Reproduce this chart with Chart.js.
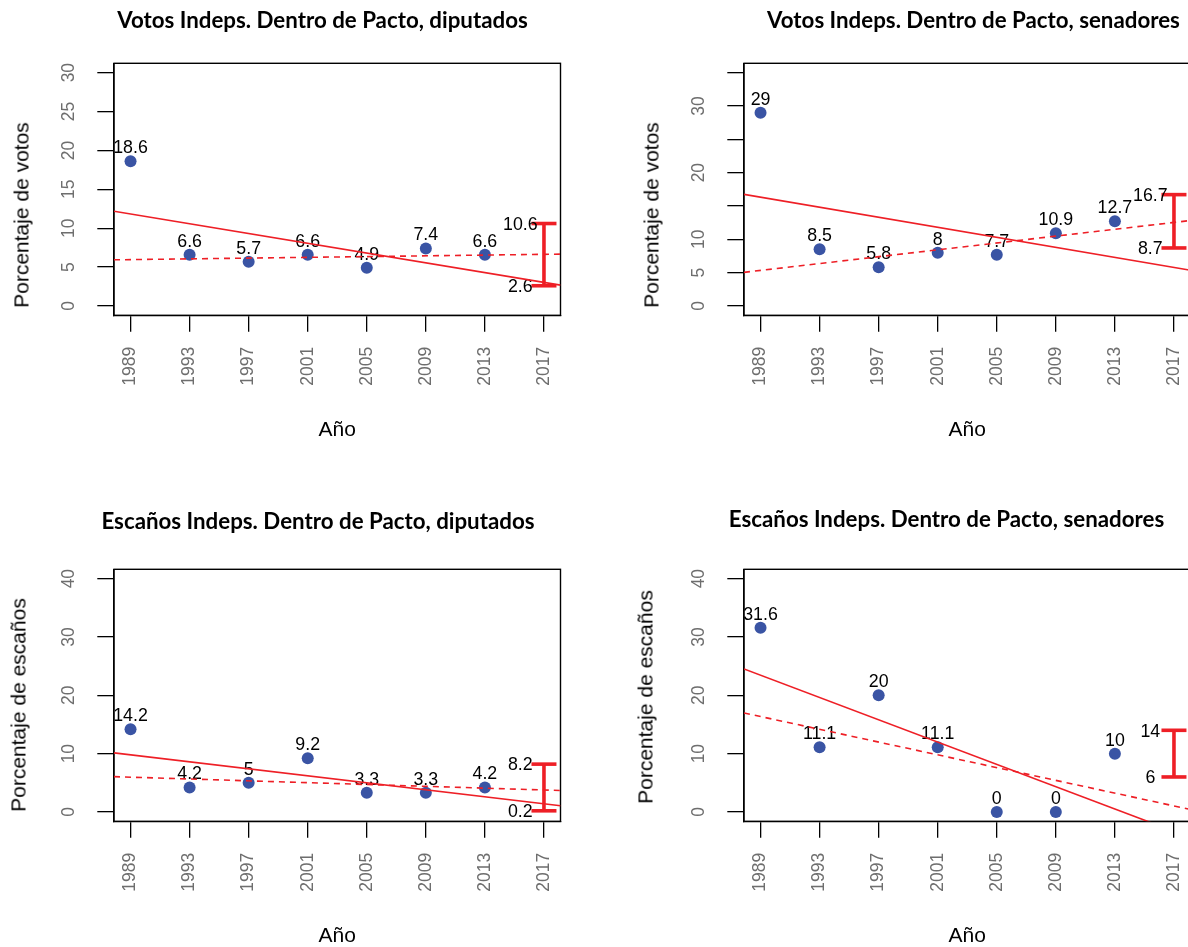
<!DOCTYPE html>
<html lang="es">
<head>
<meta charset="utf-8">
<title>Independientes dentro de pacto</title>
<script src="https://cdn.jsdelivr.net/npm/chart.js@4.4.1/dist/chart.umd.min.js"></script>
<style>
  html, body { margin: 0; padding: 0; background: #fff; }
  body { position: relative; width: 1188px; height: 947px; overflow: hidden; }
  canvas { position: absolute; }
  .panel-title {
    position: absolute; white-space: nowrap; line-height: 1;
    font-family: Lato, "Open Sans", sans-serif; font-weight: 700; font-size: 22.3px; color: #000;
    transform: translate(-50%, -50%);
  }
  .y-title {
    position: absolute; white-space: nowrap; line-height: 1;
    font-family: "Liberation Sans", Arial, sans-serif; font-size: 21px; color: #000;
    transform: translate(-50%, -50%) rotate(-90deg);
  }
</style>
</head>
<body>
<script>
// ---- data ----
const years = [1989, 1993, 1997, 2001, 2005, 2009, 2013];
const yearTicks = [1989, 1993, 1997, 2001, 2005, 2009, 2013, 2017];
const yearTickLabels = ['1989', '1993', '1997', '2001', '2005', '2009', '2013', '2017'];
const forecastYear = 2017;
const xLimits = [1989, 2017];

const votosDiputados = [18.6, 6.6, 5.7, 6.6, 4.9, 7.4, 6.6];
const votosSenadores = [29, 8.5, 5.8, 8, 7.7, 10.9, 12.7];
const escanosDiputados = [14.2, 4.2, 5, 9.2, 3.3, 3.3, 4.2];
const escanosSenadores = [31.6, 11.1, 20, 11.1, 0, 0, 10];

// 2017 range (low, high)
const rangoVotosDiputados = [2.6, 10.6];
const rangoVotosSenadores = [8.7, 16.7];
const rangoEscanosDiputados = [0.2, 8.2];
const rangoEscanosSenadores = [6, 14];

const yLimitsVotosDip = [0, 30];
const yTicksVotosDip = [0, 5, 10, 15, 20, 25, 30];
const yTickLabelsVotosDip = ['0', '5', '10', '15', '20', '25', '30'];

const yLimitsVotosSen = [0, 35];
const yTicksVotosSen = [0, 5, 10, 15, 20, 25, 30, 35];
const yTickLabelsVotosSen = ['0', '5', '10', '', '20', '', '30', ''];

const yLimitsEscanos = [0, 40];
const yTicksEscanos = [0, 10, 20, 30, 40];
const yTickLabelsEscanos = ['0', '10', '20', '30', '40'];

// ---- styles ----
const POINT_BLUE = '#3a54a4';
const TREND_RED = '#ee1f26';
const TICK_GREY = '#6e6e6e';
const SANS = '"Liberation Sans", Arial, Helvetica, sans-serif';
const CANVAS_W = 630, CANVAS_H = 506;

Chart.defaults.font.family = SANS;

// ordinary least squares line through (xs, ys)
function leastSquares(xs, ys) {
  const n = xs.length;
  const mx = xs.reduce((a, b) => a + b, 0) / n;
  const my = ys.reduce((a, b) => a + b, 0) / n;
  let sxy = 0, sxx = 0;
  for (let i = 0; i < n; i++) {
    sxy += (xs[i] - mx) * (ys[i] - my);
    sxx += (xs[i] - mx) * (xs[i] - mx);
  }
  const slope = sxy / sxx;
  return { slope, intercept: my - slope * mx };
}

// axis range widened by 4% on each side
function widen(lim) {
  const d = (lim[1] - lim[0]) * 0.04;
  return [lim[0] - d, lim[1] + d];
}

// plot frame around the chart area
const framePlugin = {
  id: 'frame',
  beforeDatasetsDraw(chart) {
    const { ctx, chartArea: a } = chart;
    ctx.save();
    ctx.strokeStyle = '#000';
    ctx.lineWidth = 1.4;
    ctx.strokeRect(a.left, a.top, a.right - a.left, a.bottom - a.top);
    ctx.restore();
  }
};

// value labels above the points and beside the 2017 range
const labelPlugin = {
  id: 'valueLabels',
  afterDatasetDraw(chart, args) {
    const ctx = chart.ctx;
    const ds = chart.data.datasets[args.index];
    if (!ds.labelKind) return;
    const meta = args.meta;
    ctx.save();
    ctx.fillStyle = '#000';
    ctx.font = '17.8px ' + SANS;
    ctx.textAlign = 'center';
    ctx.textBaseline = 'alphabetic';
    if (ds.labelKind === 'points') {
      meta.data.forEach((el, i) => {
        ctx.fillText(String(ds.data[i].y), el.x, el.y - 8);
      });
    } else if (ds.labelKind === 'range') {
      const lx = chart.scales.x.getPixelForValue(forecastYear - 1.6);
      meta.data.forEach((el, i) => {
        ctx.fillText(String(ds.data[i].y), lx, el.y + 6.3);
      });
    }
    ctx.restore();
  }
};

function addText(cls, text, cx, cy) {
  const d = document.createElement('div');
  d.className = cls;
  d.textContent = text;
  d.style.left = cx + 'px';
  d.style.top = cy + 'px';
  document.body.appendChild(d);
}

function makePanel(p) {
  const canvas = document.createElement('canvas');
  canvas.width = CANVAS_W;
  canvas.height = CANVAS_H;
  canvas.style.left = p.left + 'px';
  canvas.style.top = p.top + 'px';
  document.body.appendChild(canvas);

  const [xMin, xMax] = widen(xLimits);
  const [yMin, yMax] = widen(p.yLimits);

  const fitAll = leastSquares(years, p.values);
  const fitLater = leastSquares(years.slice(1), p.values.slice(1));
  const trend = f => [xMin, xMax].map(x => ({ x, y: f.intercept + f.slope * x }));

  new Chart(canvas, {
    type: 'scatter',
    data: {
      datasets: [
        { data: trend(fitAll), showLine: true, borderColor: TREND_RED, borderWidth: 1.6,
          pointRadius: 0, clip: 0 },
        { data: trend(fitLater), showLine: true, borderColor: TREND_RED, borderWidth: 1.6,
          borderDash: [6, 5], pointRadius: 0, clip: 0 },
        { data: p.range.map(y => ({ x: forecastYear, y })), showLine: true,
          borderColor: TREND_RED, borderWidth: 3.6, pointStyle: 'line', pointRadius: 12.5,
          pointBorderWidth: 3.6, pointBorderColor: TREND_RED, clip: false, labelKind: 'range' },
        { data: years.map((x, i) => ({ x, y: p.values[i] })), pointRadius: 6,
          pointBackgroundColor: POINT_BLUE, pointBorderWidth: 0, labelKind: 'points' }
      ]
    },
    options: {
      responsive: false,
      animation: false,
      devicePixelRatio: 1,
      events: [],
      layout: { padding: { top: 63.3, right: 69.5, left: 0, bottom: 0 } },
      plugins: { legend: { display: false }, tooltip: { enabled: false }, title: { display: false } },
      scales: {
        x: {
          type: 'linear', min: xMin, max: xMax,
          afterBuildTicks: s => { s.ticks = yearTicks.map(v => ({ value: v })); },
          afterFit: s => { s.height = CANVAS_H - 315.3; },
          ticks: {
            autoSkip: false, minRotation: 90, maxRotation: 90, padding: 15,
            color: TICK_GREY, font: { size: 17.5 },
            callback: (v, i) => yearTickLabels[i]
          },
          grid: { drawOnChartArea: false, drawTicks: true, tickLength: 16.5, color: '#000', lineWidth: 1.3 },
          border: { display: true, color: '#000', width: 1.3 },
          title: { display: true, text: 'Año', color: '#000', font: { size: 21 },
                   padding: { top: 0, bottom: 63 } }
        },
        y: {
          type: 'linear', min: yMin, max: yMax,
          afterBuildTicks: s => { s.ticks = p.yTicks.map(v => ({ value: v })); },
          afterFit: s => { s.width = 114; },
          ticks: {
            minRotation: 90, maxRotation: 90, crossAlign: 'center', padding: 18.3,
            color: TICK_GREY, font: { size: 17.5 },
            callback: (v, i) => p.yTickLabels[i]
          },
          grid: { drawOnChartArea: false, drawTicks: true, tickLength: 16.7, color: '#000', lineWidth: 1.3 },
          border: { display: true, color: '#000', width: 1.3 }
        }
      }
    },
    plugins: [framePlugin, labelPlugin]
  });

  addText('panel-title', p.title, p.titleAt[0], p.titleAt[1]);
  addText('y-title', p.yTitle, p.yTitleAt[0], p.yTitleAt[1]);
}

const panels = [
  { left: 0, top: 0, values: votosDiputados, range: rangoVotosDiputados,
    yLimits: yLimitsVotosDip, yTicks: yTicksVotosDip, yTickLabels: yTickLabelsVotosDip,
    title: 'Votos Indeps. Dentro de Pacto, diputados', titleAt: [322.5, 20],
    yTitle: 'Porcentaje de votos', yTitleAt: [21, 215] },
  { left: 630, top: 0, values: votosSenadores, range: rangoVotosSenadores,
    yLimits: yLimitsVotosSen, yTicks: yTicksVotosSen, yTickLabels: yTickLabelsVotosSen,
    title: 'Votos Indeps. Dentro de Pacto, senadores', titleAt: [973.5, 19.5],
    yTitle: 'Porcentaje de votos', yTitleAt: [651, 215] },
  { left: 0, top: 506, values: escanosDiputados, range: rangoEscanosDiputados,
    yLimits: yLimitsEscanos, yTicks: yTicksEscanos, yTickLabels: yTickLabelsEscanos,
    title: 'Escaños Indeps. Dentro de Pacto, diputados', titleAt: [318, 521],
    yTitle: 'Porcentaje de escaños', yTitleAt: [18, 705] },
  { left: 630, top: 506, values: escanosSenadores, range: rangoEscanosSenadores,
    yLimits: yLimitsEscanos, yTicks: yTicksEscanos, yTickLabels: yTickLabelsEscanos,
    title: 'Escaños Indeps. Dentro de Pacto, senadores', titleAt: [946.5, 518.5],
    yTitle: 'Porcentaje de escaños', yTitleAt: [645, 697] }
];

panels.forEach(makePanel);
</script>
</body>
</html>
